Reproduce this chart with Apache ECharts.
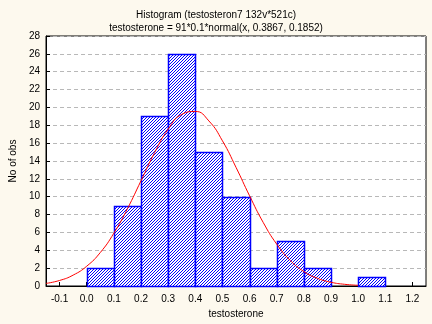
<!DOCTYPE html>
<html>
<head>
<meta charset="utf-8">
<script src="https://cdn.jsdelivr.net/npm/echarts@6/dist/echarts.min.js"></script>
<style>
html,body{margin:0;padding:0;background:#FDF9EE;}
#c{width:432px;height:324px;}
</style>
</head>
<body>
<div id="c"></div>
<script>
// Histogram bins (lower edge, upper edge) and counts
var binStarts = [0.0, 0.1, 0.2, 0.3, 0.4, 0.5, 0.6, 0.7, 0.8, 0.9, 1.0];
var binEnds   = [0.1, 0.2, 0.3, 0.4, 0.5, 0.6, 0.7, 0.8, 0.9, 1.0, 1.1];
var counts    = [2, 9, 19, 26, 15, 10, 2, 5, 2, 0, 1];

// Fitted normal curve
var curveX = [-0.15, -0.1, -0.05, 0.0, 0.05, 0.1, 0.15, 0.2, 0.25, 0.3, 0.35, 0.4, 0.45, 0.5, 0.55, 0.6, 0.65, 0.7, 0.75, 0.8, 0.85, 0.9, 0.95, 1.0];
var curveY = [0.29, 0.62, 1.22, 2.22, 3.75, 5.92, 8.66, 11.79, 14.93, 17.57, 19.22, 19.55, 18.49, 16.26, 13.29, 10.10, 7.13, 4.69, 2.86, 1.62, 0.86, 0.42, 0.19, 0.08];

// Axis tick labels
var xTicks = [-0.1, 0.0, 0.1, 0.2, 0.3, 0.4, 0.5, 0.6, 0.7, 0.8, 0.9, 1.0, 1.1, 1.2];

var titleText = 'Histogram (testosteron7 132v*521c)';
var subText = 'testosterone = 91*0.1*normal(x, 0.3867, 0.1852)';

// hatch pattern
var pc = document.createElement('canvas');
pc.width = 3; pc.height = 3;
var pctx = pc.getContext('2d');
pctx.fillStyle = 'rgb(255,255,255)';
pctx.fillRect(0,0,3,3);
pctx.fillStyle = 'rgb(0,0,255)';
pctx.fillRect(2,0,1,1);
pctx.fillRect(1,1,1,1);
pctx.fillRect(0,2,1,1);

var barData = [];
for (var i = 0; i < counts.length; i++) {
  if (counts[i] > 0) barData.push([binStarts[i], binEnds[i], counts[i]]);
}
var curveData = curveX.map(function(x, i){ return [x, curveY[i]]; });

var font = '"Liberation Sans", Arial, sans-serif';
var fs = 10;
var chart = echarts.init(document.getElementById('c'), null, {renderer:'canvas'});
chart.setOption({
  backgroundColor: '#FDF9EE',
  animation: false,
  title: [
    {text: titleText, left: 'center', top: 5, textStyle:{fontFamily:font, fontSize:fs, fontWeight:'normal', color:'#000'}},
    {text: subText, left: 'center', top: 18, textStyle:{fontFamily:font, fontSize:fs, fontWeight:'normal', color:'#000'}}
  ],
  grid: {left: 36, right: 6, top: 36, bottom: 37, show: true, backgroundColor: '#ffffff', borderColor: '#000', borderWidth: 1},
  xAxis: {
    type: 'value', min: -0.15, max: 1.25,
    name: 'testosterone', nameLocation: 'middle', nameGap: 23,
    nameTextStyle: {fontFamily: font, fontSize: fs, color: '#000'},
    axisLine: {show: true, onZero: false, lineStyle: {color: '#000', width: 1}},
    axisTick: {show: true, inside: true, length: 4, customValues: xTicks, lineStyle:{color:'#000'}},
    axisLabel: {customValues: xTicks, fontFamily: font, fontSize: fs, color: '#000', margin: 8,
      formatter: function(v){ return (Math.round(v*10)/10).toFixed(1); }},
    splitLine: {show: false}
  },
  yAxis: {
    type: 'value', min: 0, max: 28, interval: 2,
    name: 'No of obs', nameLocation: 'middle', nameGap: 24,
    nameTextStyle: {fontFamily: font, fontSize: fs, color: '#000'},
    axisLine: {show: true, onZero: false, lineStyle: {color: '#000', width: 1}},
    axisTick: {show: true, inside: true, length: 4, lineStyle:{color:'#000'}},
    axisLabel: {fontFamily: font, fontSize: fs, color: '#000', margin: 6},
    splitLine: {show: true, lineStyle: {color: '#b8b8b8', type: [4, 3], width: 1}}
  },
  series: [
    {
      type: 'custom',
      data: barData,
      renderItem: function(params, api){
        var p0 = api.coord([api.value(0), api.value(2)]);
        var p1 = api.coord([api.value(1), 0]);
        var x0 = Math.round(p0[0]), y0 = Math.round(p0[1]);
        var x1 = Math.round(p1[0]), y1 = Math.round(p1[1]);
        return {
          type: 'rect',
          shape: {x: x0 + 0.5, y: y0 + 0.5, width: x1 - x0, height: y1 - y0},
          style: {fill: {image: pc, repeat: 'repeat'}, stroke: '#0000ff', lineWidth: 1.5}
        };
      },
      z: 2
    },
    {
      type: 'line',
      data: curveData,
      smooth: true,
      showSymbol: false,
      lineStyle: {color: '#ff0000', width: 1},
      z: 3
    }
  ]
});
</script>
</body>
</html>
